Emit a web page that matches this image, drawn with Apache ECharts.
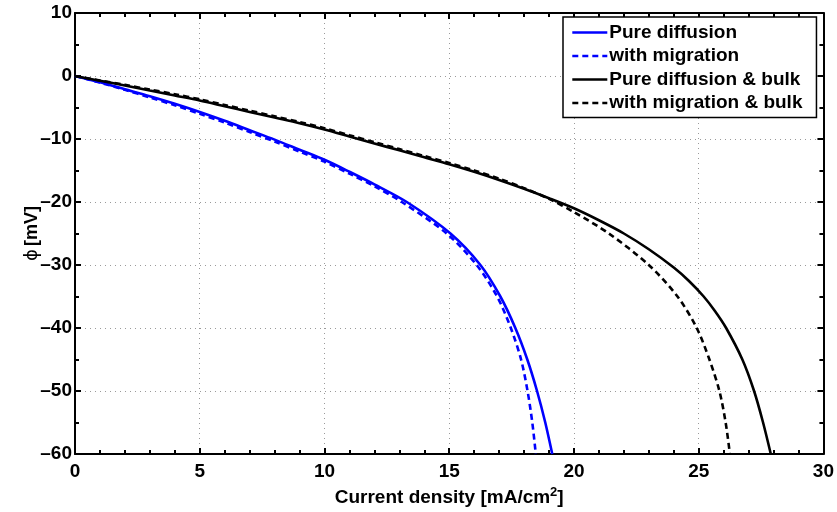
<!DOCTYPE html>
<html>
<head>
<meta charset="utf-8">
<script src="https://cdn.jsdelivr.net/npm/echarts@6/dist/echarts.min.js"></script>
<style>
  html, body { margin: 0; padding: 0; background: #fff; }
  #chart { width: 837px; height: 512px; }
</style>
</head>
<body>
<div id="chart"></div>
<script>
// Potential drop vs. current density for four model variants
const seriesNames = ['Pure diffusion', 'with migration', 'Pure diffusion & bulk', 'with migration & bulk'];

const pureDiffX = [0, 1, 2, 3, 4, 5, 6, 7, 8, 9, 10, 11, 12, 13.3, 15.05, 16.25, 17.05, 17.65, 18.13, 18.52, 18.85, 19.13];
const pureDiffY = [0, -1.0, -2.1, -3.2, -4.4, -5.7, -7.1, -8.6, -10.1, -11.7, -13.3, -15.2, -17.2, -20, -25, -30, -35, -40, -45, -50, -55, -60];

const migrX = [0, 1, 2, 3, 4, 5, 6, 7, 8, 9, 10, 11, 12, 13.1, 14.9, 16.1, 16.92, 17.47, 17.88, 18.14, 18.33, 18.47];
const migrY = [0, -1.05, -2.2, -3.4, -4.65, -6.0, -7.4, -8.9, -10.4, -12.0, -13.6, -15.5, -17.5, -20, -25, -30, -35, -40, -45, -50, -55, -60];

const bulkX = [0, 1, 2, 3, 4, 5, 6, 7, 8, 9, 10, 11, 12, 13, 14, 15, 16, 17, 18, 19, 20, 21, 22, 23, 24, 24.6, 25.2, 25.65, 26.1, 26.75, 27.22, 27.58, 27.89];
const bulkY = [0, -0.75, -1.5, -2.3, -3.1, -3.9, -4.8, -5.7, -6.6, -7.5, -8.5, -9.6, -10.7, -11.8, -12.9, -14.0, -15.2, -16.5, -17.9, -19.4, -21.0, -22.9, -25.0, -27.5, -30.4, -32.5, -35, -37.3, -40, -45, -50, -55, -60];

const migrBulkX = [0, 1, 2, 3, 4, 5, 6, 7, 8, 9, 10, 11, 12, 13, 14, 15, 16, 17, 18, 19, 20, 21.4, 23.0, 24.15, 24.92, 25.43, 25.83, 26.08, 26.25];
const migrBulkY = [0, -0.7, -1.4, -2.15, -2.9, -3.7, -4.6, -5.5, -6.4, -7.3, -8.3, -9.4, -10.5, -11.6, -12.7, -13.8, -15.0, -16.3, -17.8, -19.5, -21.6, -25, -30, -35, -40, -45, -50, -55, -60];

const xTicks = [0, 5, 10, 15, 20, 25, 30];
const yTicks = [-60, -50, -40, -30, -20, -10, 0, 10];

function pairs(xs, ys) { return xs.map((x, i) => [x, ys[i]]); }
// MATLAB-style en dash for negative tick labels
function fmtTick(v) { return v < 0 ? '\u2013' + Math.abs(v) : String(v); }

const FONT = '"Liberation Sans", Arial, sans-serif';
const chart = echarts.init(document.getElementById('chart'), null, { renderer: 'canvas' });

const tickLabel = { color: '#000', fontFamily: FONT, fontWeight: 'bold', fontSize: 19, formatter: fmtTick };
const axisLine = { show: true, onZero: false, lineStyle: { color: '#000', width: 2 } };
const gridLine = { show: true, lineStyle: { color: '#9a9a9a', type: [1, 4], width: 1 } };
const majorTick = { show: true, inside: true, length: 6, lineStyle: { color: '#000', width: 2 } };

function lineSeries(name, xs, ys, color, dashed) {
  return {
    name, type: 'line', data: pairs(xs, ys), smooth: 0.3, showSymbol: false, symbol: 'none',
    lineStyle: { color, width: 2.6, type: dashed ? [6, 4] : 'solid' },
    itemStyle: { color }, clip: true, z: 3
  };
}

chart.setOption({
  animation: false,
  backgroundColor: '#fff',
  grid: { left: 75, right: 13, top: 13, bottom: 57, containLabel: false },
  legend: {
    data: seriesNames,
    orient: 'vertical', left: 563, top: 17,
    backgroundColor: '#fff', borderColor: '#000', borderWidth: 1.5, borderRadius: 0,
    padding: [6, 14, 5, 8], itemGap: 4.5, itemWidth: 35, itemHeight: 14,
    itemStyle: { opacity: 0, borderWidth: 0 },
    lineStyle: { width: 2.6 },
    textStyle: { color: '#000', fontFamily: FONT, fontWeight: 'bold', fontSize: 19, padding: [0, 0, 0, -3] }
  },
  xAxis: [{
    type: 'value', min: xTicks[0], max: xTicks[xTicks.length - 1], interval: 5,
    position: 'bottom',
    name: '{a|Current density [mA/cm}{s|2}{a|]}', nameLocation: 'middle', nameGap: 32,
    nameMoveOverlap: false,
    nameTextStyle: { rich: {
      a: { color: '#000', fontFamily: FONT, fontWeight: 'bold', fontSize: 19 },
      s: { color: '#000', fontFamily: FONT, fontWeight: 'bold', fontSize: 13, verticalAlign: 'top', padding: [0, 0, 10, 0] }
    } },
    axisLine, axisTick: majorTick,
    minorTick: { show: true, splitNumber: 5, length: 4, lineStyle: { color: '#000', width: 2 } },
    axisLabel: Object.assign({ margin: 8 }, tickLabel),
    splitLine: gridLine
  }, {
    type: 'value', min: xTicks[0], max: xTicks[xTicks.length - 1], interval: 5, position: 'top',
    axisLine, axisTick: majorTick,
    minorTick: { show: true, splitNumber: 5, length: 4, lineStyle: { color: '#000', width: 2 } },
    axisLabel: { show: false }, splitLine: { show: false }
  }],
  yAxis: [{
    type: 'value', min: yTicks[0], max: yTicks[yTicks.length - 1], interval: 10,
    position: 'left',
    name: '{p|ϕ} {a|[mV]}', nameLocation: 'middle', nameGap: 34, nameRotate: 90,
    nameMoveOverlap: false,
    nameTextStyle: { rich: {
      p: { color: '#000', fontFamily: '"DejaVu Sans", sans-serif', fontSize: 18 },
      a: { color: '#000', fontFamily: FONT, fontWeight: 'bold', fontSize: 18 }
    } },
    axisLine, axisTick: majorTick,
    minorTick: { show: true, splitNumber: 2, length: 4, lineStyle: { color: '#000', width: 2 } },
    axisLabel: Object.assign({ margin: 3 }, tickLabel),
    splitLine: gridLine
  }, {
    type: 'value', min: yTicks[0], max: yTicks[yTicks.length - 1], interval: 10, position: 'right',
    axisLine, axisTick: majorTick,
    minorTick: { show: true, splitNumber: 2, length: 4, lineStyle: { color: '#000', width: 2 } },
    axisLabel: { show: false }, splitLine: { show: false }
  }],
  series: [
    lineSeries(seriesNames[0], pureDiffX, pureDiffY, '#0000ff', false),
    lineSeries(seriesNames[1], migrX, migrY, '#0000ff', true),
    lineSeries(seriesNames[2], bulkX, bulkY, '#000000', false),
    lineSeries(seriesNames[3], migrBulkX, migrBulkY, '#000000', true)
  ]
});
</script>
</body>
</html>
